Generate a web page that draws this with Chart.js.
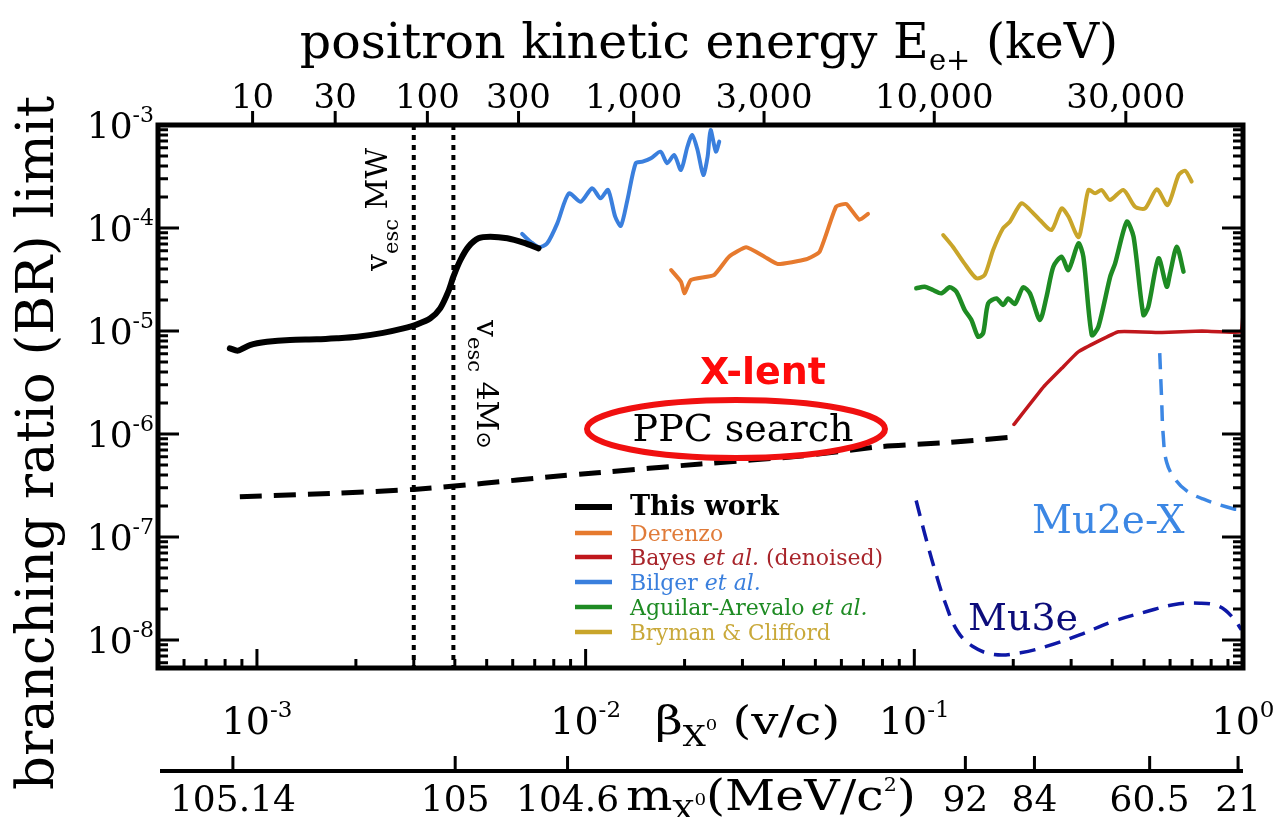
<!DOCTYPE html>
<html>
<head>
<meta charset="utf-8">
<script src="https://cdn.jsdelivr.net/npm/chart.js@4.4.1/dist/chart.umd.min.js"></script>
<style>
  html, body { margin: 0; padding: 0; background: #fff; }
  canvas { display: block; }
</style>
</head>
<body>
<canvas id="chart" width="1277" height="817"></canvas>
<script>
// ---- X0 velocity beta = v/c  vs  branching-ratio (BR) limit ----

// This work: measured limit (solid)
const thisWorkBeta = [8.27e-4, 8.75e-4, 9.52e-4, 1.073e-3, 1.26e-3, 1.52e-3, 1.75e-3, 2.02e-3, 2.42e-3, 2.79e-3, 3.07e-3, 3.37e-3, 3.61e-3, 3.82e-3, 3.96e-3, 4.16e-3, 4.40e-3, 4.72e-3, 5.13e-3, 5.78e-3, 6.47e-3, 7.19e-3];
const thisWorkBR   = [6.8e-6, 6.45e-6, 7.3e-6, 7.85e-6, 8.2e-6, 8.3e-6, 8.5e-6, 8.8e-6, 9.6e-6, 1.06e-5, 1.16e-5, 1.33e-5, 1.66e-5, 2.41e-5, 3.37e-5, 4.89e-5, 6.58e-5, 7.94e-5, 8.24e-5, 7.94e-5, 7.2e-5, 6.35e-5];

// This work: PPC search projection (dashed)
const ppcBeta = [8.87e-4, 1.75e-3, 3.0e-3, 4.9e-3, 7.82e-3, 1.086e-2, 2.24e-2, 4.52e-2, 7.93e-2, 0.126, 0.206];
const ppcBR   = [2.46e-7, 2.66e-7, 2.90e-7, 3.32e-7, 3.85e-7, 4.21e-7, 5.12e-7, 6.11e-7, 7.55e-7, 8.25e-7, 9.44e-7];

// Derenzo
const derenzoBeta = [1.82e-2, 1.95e-2, 2.00e-2, 2.09e-2, 2.46e-2, 2.73e-2, 3.08e-2, 3.50e-2, 3.84e-2, 4.69e-2, 5.15e-2, 5.78e-2, 6.21e-2, 6.81e-2, 7.23e-2];
const derenzoBR   = [3.91e-5, 3.01e-5, 2.32e-5, 3.13e-5, 3.50e-5, 5.26e-5, 6.50e-5, 5.26e-5, 4.47e-5, 4.97e-5, 5.89e-5, 1.61e-4, 1.71e-4, 1.20e-4, 1.37e-4];

// Bayes et al. (denoised)
const bayesBeta = [0.201, 0.248, 0.281, 0.316, 0.418, 0.567, 0.75, 0.985, 0.999];
const bayesBR   = [1.24e-6, 2.9e-6, 4.35e-6, 6.31e-6, 9.85e-6, 9.67e-6, 1.0e-5, 9.8e-6, 1.4e-5];

// Bilger et al.
const bilgerBeta = [6.41e-3, 6.80e-3, 7.21e-3, 7.64e-3, 8.20e-3, 8.89e-3, 9.66e-3, 1.047e-2, 1.11e-2, 1.17e-2, 1.23e-2, 1.28e-2, 1.34e-2, 1.42e-2, 1.49e-2, 1.58e-2, 1.69e-2, 1.77e-2, 1.86e-2, 1.95e-2, 2.04e-2, 2.11e-2, 2.19e-2, 2.28e-2, 2.35e-2, 2.40e-2, 2.49e-2, 2.55e-2];
const bilgerBR   = [8.75e-5, 7.36e-5, 6.50e-5, 7.10e-5, 1.11e-4, 2.17e-4, 1.80e-4, 2.43e-4, 1.94e-4, 2.34e-4, 1.29e-4, 1.05e-4, 1.87e-4, 4.25e-4, 4.41e-4, 4.75e-4, 5.51e-4, 4.25e-4, 5.12e-4, 3.66e-4, 6.15e-4, 8.0e-4, 5.72e-4, 3.27e-4, 4.92e-4, 8.94e-4, 5.51e-4, 6.89e-4];

// Aguilar-Arevalo et al.
const aguilarBeta = [0.1014, 0.1075, 0.1140, 0.1208, 0.1281, 0.1343, 0.1423, 0.1492, 0.1563, 0.1619, 0.1678, 0.1778, 0.1864, 0.1930, 0.2023, 0.2144, 0.2248, 0.2410, 0.2525, 0.2648, 0.2806, 0.2943, 0.3157, 0.3268, 0.3467, 0.3631, 0.3945, 0.4083, 0.4430, 0.4645, 0.4977, 0.5152, 0.5534, 0.5861, 0.5998, 0.6291, 0.6592];
const aguilarBR   = [2.60e-5, 2.69e-5, 2.50e-5, 2.32e-5, 2.66e-5, 2.41e-5, 1.60e-5, 1.28e-5, 8.81e-6, 9.51e-6, 1.86e-5, 2.07e-5, 1.79e-5, 2.07e-5, 1.83e-5, 2.66e-5, 2.32e-5, 1.28e-5, 2.15e-5, 4.21e-5, 5.26e-5, 3.91e-5, 7.10e-5, 5.26e-5, 9.14e-6, 1.10e-5, 3.37e-5, 4.54e-5, 1.15e-4, 8.24e-5, 1.43e-5, 1.72e-5, 5.08e-5, 2.69e-5, 3.63e-5, 6.58e-5, 3.77e-5];

// Bryman & Clifford
const brymanBeta = [0.1224, 0.131, 0.142, 0.1545, 0.1637, 0.1737, 0.1862, 0.1953, 0.2118, 0.2248, 0.2439, 0.2616, 0.2806, 0.2943, 0.3157, 0.3268, 0.3388, 0.3548, 0.3715, 0.3936, 0.4325, 0.4695, 0.5035, 0.547, 0.590, 0.637, 0.667, 0.698];
const brymanBR   = [8.55e-5, 6.58e-5, 4.54e-5, 3.25e-5, 3.50e-5, 6.11e-5, 9.93e-5, 1.15e-4, 1.74e-4, 1.50e-4, 1.15e-4, 9.57e-5, 1.55e-4, 1.29e-4, 8.13e-5, 1.29e-4, 2.34e-4, 2.17e-4, 2.34e-4, 1.87e-4, 2.34e-4, 1.61e-4, 1.55e-4, 2.38e-4, 1.67e-4, 3.27e-4, 3.60e-4, 2.82e-4];

// Mu2e-X projected sensitivity
const mu2eBeta = [0.558, 0.565, 0.572, 0.586, 0.621, 0.673, 0.756, 0.933, 0.99];
const mu2eBR   = [6.09e-6, 2.33e-6, 9.57e-7, 5.28e-7, 3.66e-7, 2.82e-7, 2.34e-7, 1.88e-7, 1.85e-7];

// Mu3e projected sensitivity
const mu3eBeta = [0.1013, 0.1072, 0.1151, 0.1248, 0.1355, 0.1503, 0.1750, 0.2105, 0.2535, 0.3199, 0.4036, 0.5096, 0.6138, 0.7396, 0.849, 0.933, 0.989];
const mu3eBR   = [2.26e-7, 1.12e-7, 4.95e-8, 2.20e-8, 1.21e-8, 8.71e-9, 7.23e-9, 7.52e-9, 8.71e-9, 1.13e-8, 1.52e-8, 1.89e-8, 2.20e-8, 2.28e-8, 2.11e-8, 1.64e-8, 1.26e-8];

// Escape velocities: Milky Way and 4 solar-mass reference
const vescBeta = [3.0e-3, 3.96e-3];

// Axis ranges and tick labels
const betaRange = [5e-4, 1];
const brRange = [5.35e-9, 1e-3];
const brTickValues = [1e-8, 1e-7, 1e-6, 1e-5, 1e-4, 1e-3];
const betaTickValues = [1e-3, 1e-2, 1e-1, 1];
const energyTickLabels = ['10', '30', '100', '300', '1,000', '3,000', '10,000', '30,000'];
const energyTickBeta = [9.7e-4, 1.73e-3, 3.30e-3, 6.25e-3, 1.40e-2, 3.49e-2, 0.115, 0.44];
const massTickLabels = ['105.14', '105', '104.6', '92', '84', '60.5', '21'];
const massTickBeta = [8.45e-4, 4.01e-3, 8.81e-3, 0.143, 0.232, 0.52, 0.966];

const SERIF = '"DejaVu Serif", serif';
const COL = {
  thisWork: '#000000',
  derenzo: '#E67A2E',
  bayes: '#C0171C',
  bilger: '#3A7FDD',
  aguilar: '#1E8B23',
  bryman: '#C9A52A',
  mu2e: '#3C87E4',
  mu3e: '#0E18A6'
};

function zip(xs, ys) { return xs.map((v, i) => ({ x: v, y: ys[i] })); }
function line(label, xs, ys, style) {
  return Object.assign({
    label, data: zip(xs, ys), pointRadius: 0, fill: false, tension: 0.25,
    borderCapStyle: 'round', borderJoinStyle: 'round'
  }, style);
}

const datasets = [
  line('This work', thisWorkBeta, thisWorkBR, { borderColor: COL.thisWork, borderWidth: 6 }),
  line('PPC search', ppcBeta, ppcBR, { borderColor: COL.thisWork, borderWidth: 5, borderDash: [22, 12], borderCapStyle: 'butt', tension: 0.2 }),
  line('Derenzo', derenzoBeta, derenzoBR, { borderColor: COL.derenzo, borderWidth: 4, tension: 0.15 }),
  line('Bayes et al. (denoised)', bayesBeta, bayesBR, { borderColor: COL.bayes, borderWidth: 3.5, tension: 0.1 }),
  line('Bilger et al.', bilgerBeta, bilgerBR, { borderColor: COL.bilger, borderWidth: 4 }),
  line('Aguilar-Arevalo et al.', aguilarBeta, aguilarBR, { borderColor: COL.aguilar, borderWidth: 4.5 }),
  line('Bryman & Clifford', brymanBeta, brymanBR, { borderColor: COL.bryman, borderWidth: 4 }),
  line('Mu2e-X', mu2eBeta, mu2eBR, { borderColor: COL.mu2e, borderWidth: 3.5, borderDash: [16, 10], borderCapStyle: 'butt', tension: 0.4 }),
  line('Mu3e', mu3eBeta, mu3eBR, { borderColor: COL.mu3e, borderWidth: 3.5, borderDash: [16, 10], borderCapStyle: 'butt', tension: 0.4 }),
  ...vescBeta.map((b, i) => line(i === 0 ? 'v_esc MW' : 'v_esc 4Msun', [b, b], [brRange[1], brRange[0]],
    { borderColor: '#000', borderWidth: 4, borderDash: [5, 5], borderCapStyle: 'butt', tension: 0 }))
];

// Draw text made of runs with their own font, colour and vertical offset;
// `stretch` widens the whole run horizontally.
function rich(ctx, parts, x, y, align, stretch) {
  const k = stretch || 1;
  let w = 0;
  parts.forEach(p => { ctx.font = p.font; p.w = ctx.measureText(p.t).width; w += p.w; });
  const total = w * k;
  const sx = align === 'center' ? x - total / 2 : align === 'right' ? x - total : x;
  ctx.save();
  ctx.translate(sx, y);
  ctx.scale(k, 1);
  ctx.textAlign = 'left';
  ctx.textBaseline = 'alphabetic';
  let cx = 0;
  parts.forEach(p => {
    ctx.font = p.font;
    ctx.fillStyle = p.c || '#000';
    ctx.fillText(p.t, cx, p.dy || 0);
    cx += p.w;
  });
  ctx.restore();
}
function pow10(exp, big, small, rise) {
  return [{ t: '10', font: `${big}px ${SERIF}` }, { t: String(exp), font: `${small}px ${SERIF}`, dy: -rise }];
}

const decor = {
  id: 'decor',
  afterDatasetsDraw(chart) {
    const { ctx, chartArea: a, scales: { x, y } } = chart;
    ctx.save();
    ctx.strokeStyle = '#000';
    ctx.lineCap = 'butt';

    // minor / major ticks on the BR axis (left and right, inward)
    ctx.lineWidth = 3;
    for (let e = -9; e <= -3; e++) {
      for (let m = 1; m <= 9; m++) {
        const v = m * Math.pow(10, e);
        if (v < y.min * 0.999 || v > y.max * 1.001) continue;
        const py = y.getPixelForValue(v);
        const len = m === 1 ? 21 : 10;
        ctx.beginPath();
        ctx.moveTo(a.left, py); ctx.lineTo(a.left + len, py);
        ctx.moveTo(a.right, py); ctx.lineTo(a.right - len, py);
        ctx.stroke();
      }
    }
    // ticks on the beta axis (bottom, inward)
    for (let e = -4; e <= 0; e++) {
      for (let m = 1; m <= 9; m++) {
        const v = m * Math.pow(10, e);
        if (v < x.min * 0.999 || v > x.max * 1.001) continue;
        const px = x.getPixelForValue(v);
        const len = m === 1 ? 19 : 9;
        ctx.beginPath();
        ctx.moveTo(px, a.bottom); ctx.lineTo(px, a.bottom - len);
        ctx.stroke();
      }
    }
    // positron-energy ticks (top, outward)
    energyTickBeta.forEach(b => {
      const px = x.getPixelForValue(b);
      ctx.beginPath(); ctx.moveTo(px, a.top); ctx.lineTo(px, a.top - 14); ctx.stroke();
    });

    // frame
    ctx.lineWidth = 5;
    ctx.strokeRect(a.left, a.top, a.right - a.left, a.bottom - a.top);

    // BR tick labels
    brTickValues.forEach(v => {
      const py = y.getPixelForValue(v);
      rich(ctx, pow10(Math.round(Math.log10(v)), 36, 22, 16), 154, py + 13, 'right');
    });
    // beta tick labels
    betaTickValues.forEach(v => {
      const px = x.getPixelForValue(v);
      rich(ctx, pow10(Math.round(Math.log10(v)), 38, 23, 17), px, 734, 'center');
    });
    // beta axis title
    rich(ctx, [
      { t: '\u03B2', font: `40px ${SERIF}` },
      { t: 'X', font: `27px ${SERIF}`, dy: 12 },
      { t: '0', font: `15px ${SERIF}`, dy: -4 },
      { t: ' (v/c)', font: `40px ${SERIF}` }
    ], 655, 734, 'left', 1.2);

    // positron energy labels and title
    energyTickBeta.forEach((b, i) => {
      rich(ctx, [{ t: energyTickLabels[i], font: `34px ${SERIF}` }], x.getPixelForValue(b), 108, 'center');
    });
    rich(ctx, [
      { t: 'positron kinetic energy E', font: `49px ${SERIF}` },
      { t: 'e+', font: `29px ${SERIF}`, dy: 12 },
      { t: ' (keV)', font: `49px ${SERIF}` }
    ], 709, 58, 'center');

    // mass axis
    const my = 771;
    ctx.lineWidth = 4;
    ctx.beginPath(); ctx.moveTo(a.left + 2, my); ctx.lineTo(a.right, my); ctx.stroke();
    ctx.lineWidth = 3;
    massTickBeta.forEach((b, i) => {
      const px = x.getPixelForValue(b);
      ctx.beginPath(); ctx.moveTo(px, my); ctx.lineTo(px, my - 15); ctx.stroke();
      rich(ctx, [{ t: massTickLabels[i], font: `36px ${SERIF}` }], px, 811, 'center');
    });
    rich(ctx, [
      { t: 'm', font: `43px ${SERIF}` },
      { t: 'X', font: `27px ${SERIF}`, dy: 11 },
      { t: '0', font: `16px ${SERIF}`, dy: -5 },
      { t: '(MeV/c', font: `43px ${SERIF}` },
      { t: '2', font: `18px ${SERIF}`, dy: -19 },
      { t: ')', font: `43px ${SERIF}` }
    ], 626, 810, 'left', 1.14);

    // BR axis title
    ctx.save();
    ctx.translate(53, 443);
    ctx.rotate(-Math.PI / 2);
    rich(ctx, [{ t: 'branching ratio (BR) limit', font: `53px ${SERIF}` }], 0, 0, 'center');
    ctx.restore();

    // escape-velocity labels along the dotted lines
    ctx.save();
    ctx.translate(387, 271);
    ctx.rotate(-Math.PI / 2);
    rich(ctx, [
      { t: 'v', font: `30px ${SERIF}` },
      { t: 'esc', font: `21px ${SERIF}`, dy: 11 },
      { t: ' MW', font: `30px ${SERIF}` }
    ], 0, 0, 'left');
    ctx.restore();
    ctx.save();
    ctx.translate(477, 320);
    ctx.rotate(Math.PI / 2);
    rich(ctx, [
      { t: 'v', font: `30px ${SERIF}` },
      { t: 'esc', font: `21px ${SERIF}`, dy: 9 },
      { t: ' 4M', font: `30px ${SERIF}` },
      { t: '\u2299', font: `21px ${SERIF}` }
    ], 0, 0, 'left');
    ctx.restore();

    // experiment labels
    rich(ctx, [{ t: 'Mu2e-X', font: `39px ${SERIF}`, c: COL.mu2e }], 1032, 533, 'left');
    rich(ctx, [{ t: 'Mu3e', font: `38px ${SERIF}`, c: '#0C0C7A' }], 968, 630, 'left');

    // PPC search callout
    rich(ctx, [{ t: 'PPC search', font: `38px ${SERIF}` }], 743, 441, 'center');
    ctx.strokeStyle = '#F01010';
    ctx.lineWidth = 6;
    ctx.beginPath();
    ctx.ellipse(736, 429, 149, 29, 0, 0, Math.PI * 2);
    ctx.stroke();
    rich(ctx, [{ t: 'X-lent', font: `bold 38px "DejaVu Sans", sans-serif`, c: '#FF0A0A' }], 763, 384, 'center');

    // legend
    const it = `italic 22px ${SERIF}`, rg = `22px ${SERIF}`;
    const legend = [
      { col: COL.thisWork, txt: '#000', y: 507, parts: [{ t: 'This work', font: `bold 27px ${SERIF}` }] },
      { col: COL.derenzo, txt: '#E07B39', y: 533, parts: [{ t: 'Derenzo', font: rg }] },
      { col: COL.bayes, txt: '#A8242A', y: 557, parts: [{ t: 'Bayes ', font: rg }, { t: 'et al.', font: it }, { t: ' (denoised)', font: rg }] },
      { col: COL.bilger, txt: '#3A7FDD', y: 582, parts: [{ t: 'Bilger ', font: rg }, { t: 'et al.', font: it }] },
      { col: COL.aguilar, txt: '#1E8B23', y: 607, parts: [{ t: 'Aguilar-Arevalo ', font: rg }, { t: 'et al.', font: it }] },
      { col: COL.bryman, txt: '#C9A93A', y: 632, parts: [{ t: 'Bryman & Clifford', font: `21.5px ${SERIF}` }] }
    ];
    legend.forEach((e, i) => {
      ctx.strokeStyle = e.col;
      ctx.lineWidth = i === 0 ? 6 : 4.5;
      ctx.beginPath(); ctx.moveTo(575, e.y); ctx.lineTo(612, e.y); ctx.stroke();
      e.parts.forEach(p => p.c = e.txt);
      rich(ctx, e.parts, 630, e.y + 8, 'left');
    });
    ctx.restore();
  }
};

new Chart(document.getElementById('chart'), {
  type: 'line',
  data: { datasets },
  options: {
    responsive: false,
    devicePixelRatio: 1,
    animation: false,
    events: [],
    layout: { padding: { left: 158, right: 34, top: 125, bottom: 149 } },
    plugins: { legend: { display: false }, tooltip: { enabled: false } },
    scales: {
      x: { type: 'logarithmic', min: betaRange[0], max: betaRange[1], display: false },
      y: { type: 'logarithmic', min: brRange[0], max: brRange[1], display: false }
    }
  },
  plugins: [decor]
});
</script>
</body>
</html>
